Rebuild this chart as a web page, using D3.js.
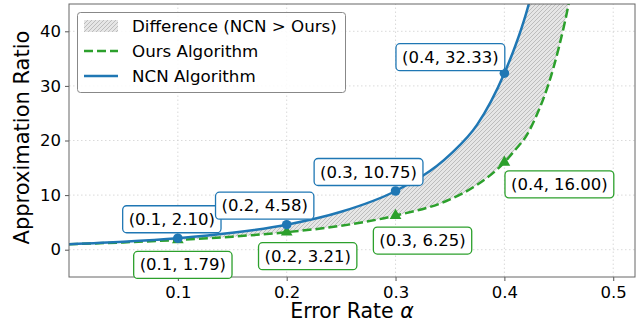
<!DOCTYPE html>
<html>
    <head>
        <meta charset="utf-8">
        <script src="https://d3js.org/d3.v7.min.js"></script>
        <title>Approximation Ratio</title>
        <style>
            body { margin: 0; background: #fff }
            text { font-family: "DejaVu Sans", sans-serif; fill: #000 }
        </style>
    </head>
    <body>
        <script>
            // values
            const alphaGrid = [0, 0.05, 0.1, 0.15, 0.2, 0.25, 0.3, 0.35, 0.375, 0.4, 0.41, 0.42, 0.43, 0.44, 0.45, 0.46, 0.47]
            const ncnValues = [1, 1.45, 2.10, 3.09, 4.58, 6.94, 10.75, 17.4, 22.9, 32.33, 37.3, 43.3, 50.8, 60, 71, 85, 102]
            const oursValues = [1, 1.34, 1.79, 2.39, 3.21, 4.38, 6.25, 9.2, 11.9, 16.0, 18.3, 20.8, 24.8, 30, 37, 46, 58]

            const markAlphas = [0.1, 0.2, 0.3, 0.4]
            const ncnMarks = [2.10, 4.58, 10.75, 32.33]
            const oursMarks = [1.79, 3.21, 6.25, 16.00]

            const xTicks = [0.1, 0.2, 0.3, 0.4, 0.5]
            const yTicks = [0, 10, 20, 30, 40]
            const legendLabels = ['Difference (NCN > Ours)', 'Ours Algorithm', 'NCN Algorithm']

            /* canvas setup */
            const width = 644
            const height = 326
            const margin = { top: 4, right: 9, bottom: 49, left: 69 }
            const blue = '#1f77b4'
            const green = '#2ca02c'

            const svg = d3.select('body')
                .append('svg')
                    .attr('width', width)
                    .attr('height', height)

            const x = d3.scaleLinear().domain([0, 0.52]).range([margin.left, width - margin.right])
            const y = d3.scaleLinear().domain([-5, 45]).range([height - margin.bottom, margin.top])

            const defs = svg.append('defs')
            defs.append('clipPath').attr('id', 'plot')
                .append('rect')
                    .attr('x', margin.left).attr('y', margin.top)
                    .attr('width', width - margin.left - margin.right)
                    .attr('height', height - margin.top - margin.bottom)

            const hatch = defs.append('pattern')
                .attr('id', 'hatch')
                .attr('patternUnits', 'userSpaceOnUse')
                .attr('width', 4).attr('height', 4)
            hatch.append('rect').attr('width', 4).attr('height', 4).attr('fill', '#e6e6e6')
            hatch.append('path')
                .attr('d', 'M-1,1 l2,-2 M0,4 l4,-4 M3,5 l2,-2')
                .attr('stroke', '#b3b3b3').attr('stroke-width', 0.8)

            /* grid */
            const grid = svg.append('g').attr('stroke', '#d0d0d0').attr('stroke-dasharray', '1.5,2.5').attr('stroke-width', 0.8)
            grid.selectAll('.gx').data(xTicks).join('line')
                .attr('x1', d => x(d)).attr('x2', d => x(d))
                .attr('y1', y.range()[0]).attr('y2', y.range()[1])
            grid.selectAll('.gy').data(yTicks).join('line')
                .attr('y1', d => y(d)).attr('y2', d => y(d))
                .attr('x1', x.range()[0]).attr('x2', x.range()[1])

            const rows = alphaGrid.map((a, i) => ({ a: a, ncn: ncnValues[i], ours: oursValues[i] }))
            const plot = svg.append('g').attr('clip-path', 'url(#plot)')

            plot.append('path')
                .datum(rows)
                .attr('fill', 'url(#hatch)')
                .attr('d', d3.area().curve(d3.curveMonotoneX)
                    .x(d => x(d.a)).y0(d => y(d.ours)).y1(d => y(d.ncn)))

            plot.append('path')
                .datum(rows)
                .attr('fill', 'none').attr('stroke', green).attr('stroke-width', 2.5)
                .attr('stroke-dasharray', '9,4')
                .attr('d', d3.line().curve(d3.curveMonotoneX).x(d => x(d.a)).y(d => y(d.ours)))

            plot.append('path')
                .datum(rows)
                .attr('fill', 'none').attr('stroke', blue).attr('stroke-width', 2.5)
                .attr('d', d3.line().curve(d3.curveMonotoneX).x(d => x(d.a)).y(d => y(d.ncn)))

            plot.selectAll('.tri').data(markAlphas).join('path')
                .attr('transform', (d, i) => `translate(${x(d)},${y(oursMarks[i])})`)
                .attr('d', d3.symbol(d3.symbolTriangle, 60))
                .attr('fill', green)

            plot.selectAll('.dot').data(markAlphas).join('circle')
                .attr('cx', d => x(d))
                .attr('cy', (d, i) => y(ncnMarks[i]))
                .attr('r', 4.8)
                .attr('fill', blue)

            /* axes */
            const gx = svg.append('g')
                .attr('transform', `translate(0,${y.range()[0]})`)
                .call(d3.axisBottom(x).tickValues(xTicks).tickSize(4).tickPadding(5).tickFormat(d3.format('.1f')))
            const gy = svg.append('g')
                .attr('transform', `translate(${margin.left},0)`)
                .call(d3.axisLeft(y).tickValues(yTicks).tickSize(4).tickPadding(4))
            for (const g of [gx, gy]) {
                g.select('.domain').remove()
                g.selectAll('line').attr('stroke', '#555')
                g.selectAll('text').attr('font-size', 16.5).attr('font-family', 'DejaVu Sans').attr('fill', '#000')
            }

            svg.append('rect')
                .attr('x', margin.left).attr('y', margin.top)
                .attr('width', width - margin.left - margin.right)
                .attr('height', height - margin.top - margin.bottom)
                .attr('fill', 'none').attr('stroke', '#666').attr('stroke-width', 1)

            svg.append('text')
                .attr('x', (x.range()[0] + x.range()[1]) / 2).attr('y', 318)
                .attr('text-anchor', 'middle').attr('font-size', 20.5)
                .html('Error Rate <tspan font-style="italic">α</tspan>')

            svg.append('text')
                .attr('transform', `translate(29,${(y.range()[0] + y.range()[1]) / 2 - 3}) rotate(-90)`)
                .attr('text-anchor', 'middle').attr('font-size', 21)
                .text('Approximation Ratio')

            /* annotation boxes */
            const ncnOffsets = [[-6, -19], [-22, -19], [-27, -19], [-54, -16]]
            const oursOffsets = [[5, 25], [21, 24], [27, 25], [55, 22]]

            const annotate = (vals, offsets, color) => {
                markAlphas.forEach((a, i) => {
                    const cx = x(a) + offsets[i][0]
                    const cy = y(vals[i]) + offsets[i][1]
                    const g = svg.append('g')
                    const t = g.append('text')
                        .attr('x', cx).attr('y', cy)
                        .attr('text-anchor', 'middle').attr('dominant-baseline', 'central')
                        .attr('font-size', 16.5)
                        .text(`(${a.toFixed(1)}, ${vals[i].toFixed(2)})`)
                    const w = t.node().getComputedTextLength() + 12
                    g.insert('rect', 'text')
                        .attr('x', cx - w / 2).attr('y', cy - 13.5)
                        .attr('width', w).attr('height', 27)
                        .attr('rx', 4)
                        .attr('fill', '#fff').attr('stroke', color).attr('stroke-width', 1.3)
                })
            }
            annotate(ncnMarks, ncnOffsets, blue)
            annotate(oursMarks, oursOffsets, green)

            /* legend */
            const legend = svg.append('g')
            legend.append('rect')
                .attr('x', 77.5).attr('y', 12.5).attr('width', 268).attr('height', 80)
                .attr('rx', 3)
                .attr('fill', '#fff').attr('fill-opacity', 0.85)
                .attr('stroke', '#888').attr('stroke-width', 1)
            const rowY = [26, 51, 76]
            legend.append('rect')
                .attr('x', 84).attr('y', rowY[0] - 6).attr('width', 34).attr('height', 12)
                .attr('fill', 'url(#hatch)')
            legend.append('line')
                .attr('x1', 84).attr('x2', 118).attr('y1', rowY[1]).attr('y2', rowY[1])
                .attr('stroke', green).attr('stroke-width', 2.5).attr('stroke-dasharray', '9,4')
            legend.append('line')
                .attr('x1', 84).attr('x2', 118).attr('y1', rowY[2]).attr('y2', rowY[2])
                .attr('stroke', blue).attr('stroke-width', 2.5)
            legend.selectAll('.lbl').data(legendLabels).join('text')
                .attr('x', 132).attr('y', (d, i) => rowY[i])
                .attr('dominant-baseline', 'central')
                .attr('font-size', 16.7)
                .text(d => d)
        </script>
    </body>
</html>
